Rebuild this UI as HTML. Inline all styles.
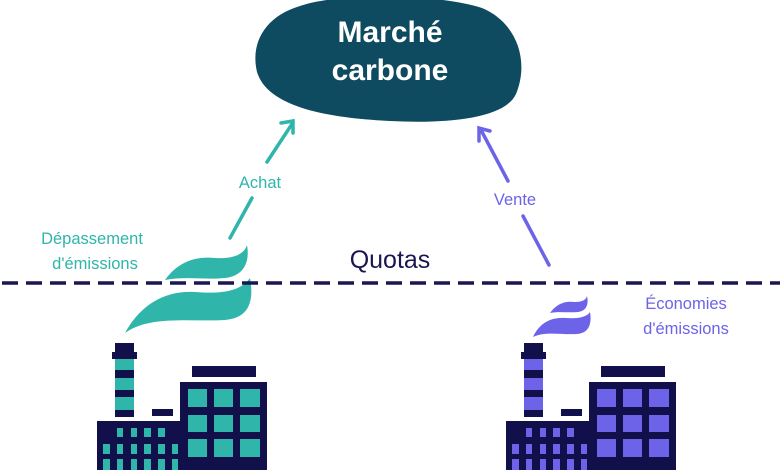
<!DOCTYPE html>
<html><head><meta charset="utf-8"><style>
html,body{margin:0;padding:0;background:#fff;}
svg{display:block;}
text{font-family:"Liberation Sans","DejaVu Sans",sans-serif;}
</style></head><body>
<svg width="780" height="470" viewBox="0 0 780 470" xmlns="http://www.w3.org/2000/svg">
<path d="M300,6 C340,-8 440,-6 482,8 C516,22 530,60 516,94 C505,118 450,124 390,121 C330,118 268,108 257,72 C250,42 266,16 300,6 Z" fill="#0e4a60"/>
<text x="390" y="42" text-anchor="middle" font-size="30" font-weight="bold" fill="#fff">Marché</text>
<text x="390" y="80" text-anchor="middle" font-size="30" font-weight="bold" fill="#fff">carbone</text>

<g stroke="#2fb5aa" stroke-width="3.5" fill="none" stroke-linecap="round">
<line x1="230" y1="238" x2="252" y2="198"/>
<line x1="267" y1="162" x2="292" y2="124"/>
<polyline points="281,123 293,121 293,133"/>
</g>
<g stroke="#6c63e8" stroke-width="3.5" fill="none" stroke-linecap="round">
<line x1="549" y1="265" x2="523" y2="216"/>
<line x1="508" y1="181" x2="481" y2="130"/>
<polyline points="479,141 479,128 490,131"/>
</g>

<g font-size="16.5" fill="#2fb5aa">
<text x="92" y="244" text-anchor="middle">Dépassement</text>
<text x="95" y="269" text-anchor="middle">d'émissions</text>
<text x="260" y="188" text-anchor="middle">Achat</text>
</g>
<g font-size="16.5" fill="#6c63e8">
<text x="515" y="205" text-anchor="middle">Vente</text>
<text x="686" y="309" text-anchor="middle">Économies</text>
<text x="686" y="334" text-anchor="middle">d'émissions</text>
</g>
<text x="390" y="268" text-anchor="middle" font-size="25" fill="#1a1650">Quotas</text>

<g fill="#2fb5aa">
<path d="M165,280 C178,262 195,256 215,258 C232,259 244,255 247,245 C250,262 244,276 225,278 C205,280 185,276 165,280 Z"/>
<path d="M125,333 C140,305 165,290 195,292 C220,294 240,292 250,278 C254,300 250,318 225,320 C190,322 150,315 125,333 Z"/>
</g>
<g fill="#6c63e8">
<path d="M550,313 C558,302 567,301 575,302 C582,302 586,300 587,296 C589,305 586,311 578,312 C568,313 558,311 550,313 Z"/>
<path d="M533,337 C540,322 552,317 566,318 C578,319 587,317 590,312 C592,324 589,333 577,334 C562,335 545,331 533,337 Z"/>
</g>

<line x1="2" y1="283" x2="780" y2="283" stroke="#1a1650" stroke-width="3.5" stroke-dasharray="16,8"/>

<defs>
<g id="fac">
<rect x="115" y="343" width="19" height="9" fill="#12104a"/>
<rect x="112" y="352" width="25" height="7" fill="#12104a"/>
<rect x="115" y="359" width="19" height="58" fill="var(--c)"/>
<rect x="115" y="370" width="19" height="8" fill="#12104a"/>
<rect x="115" y="390" width="19" height="7" fill="#12104a"/>
<rect x="115" y="410" width="19" height="7" fill="#12104a"/>
<rect x="152" y="409" width="21" height="7" fill="#12104a"/>
<rect x="192" y="366" width="64" height="11" fill="#12104a"/>
<rect x="97" y="421" width="86" height="49" fill="#12104a"/>
<rect x="180" y="382" width="87" height="88" fill="#12104a"/>
<g fill="var(--c)">
<rect x="188" y="389" width="19" height="18"/><rect x="214" y="389" width="19" height="18"/><rect x="240" y="389" width="20" height="18"/>
<rect x="188" y="415" width="19" height="17"/><rect x="214" y="415" width="19" height="17"/><rect x="240" y="415" width="20" height="17"/>
<rect x="188" y="439" width="19" height="18"/><rect x="214" y="439" width="19" height="18"/><rect x="240" y="439" width="20" height="18"/>
<rect x="117" y="428" width="6" height="9"/><rect x="131" y="428" width="6" height="9"/><rect x="144" y="428" width="7" height="9"/><rect x="158" y="428" width="7" height="9"/>
<rect x="103" y="444" width="7" height="10"/><rect x="117" y="444" width="6" height="10"/><rect x="131" y="444" width="6" height="10"/><rect x="144" y="444" width="7" height="10"/><rect x="158" y="444" width="7" height="10"/><rect x="172" y="444" width="6" height="10"/>
<rect x="103" y="459" width="7" height="11"/><rect x="117" y="459" width="6" height="11"/><rect x="131" y="459" width="6" height="11"/><rect x="144" y="459" width="7" height="11"/><rect x="158" y="459" width="7" height="11"/><rect x="172" y="459" width="6" height="11"/>
</g>
</g>
</defs>
<use href="#fac" style="--c:#2fb5aa"/>
<use href="#fac" transform="translate(409,0)" style="--c:#6c63e8"/>
</svg>
</body></html>
